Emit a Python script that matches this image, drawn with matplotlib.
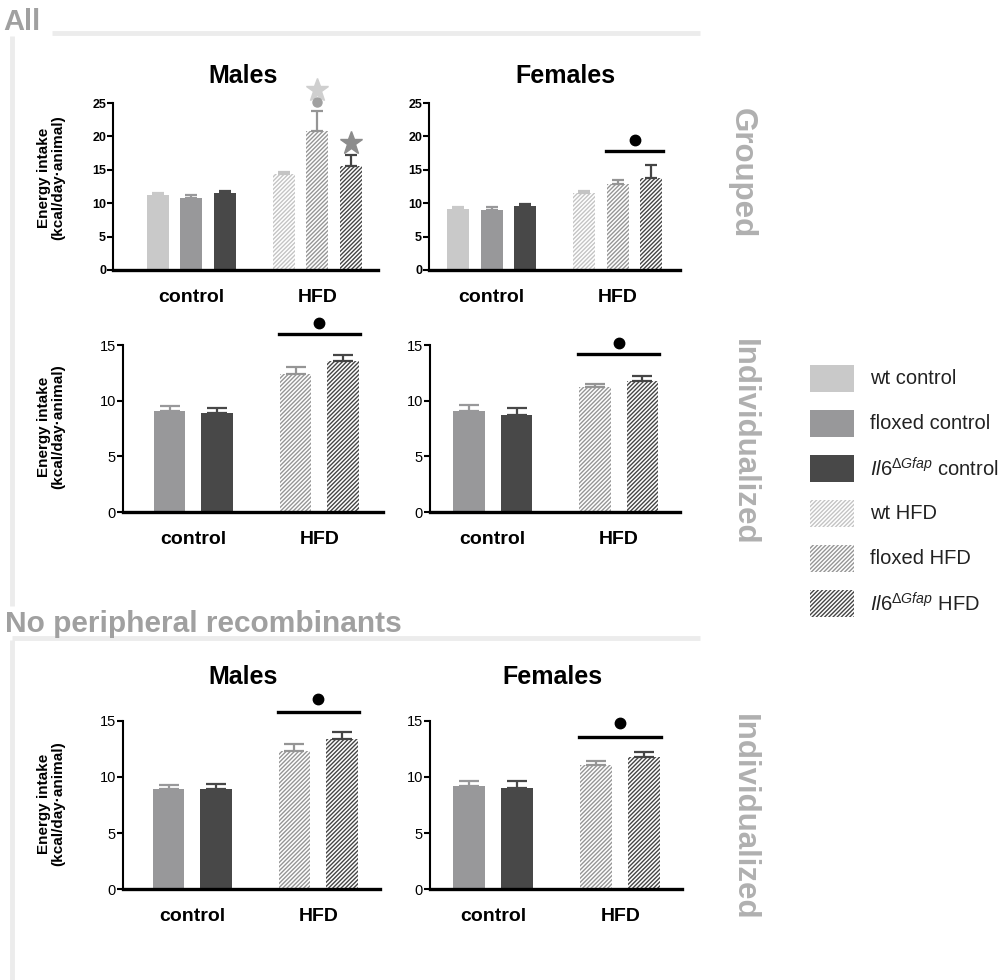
import numpy as np
import matplotlib
matplotlib.use('Agg')
import matplotlib.pyplot as plt
from matplotlib.patches import Rectangle

plt.rcParams['font.family'] = ['Liberation Sans', 'DejaVu Sans']
plt.rcParams['mathtext.fontset'] = 'custom'
plt.rcParams['mathtext.rm'] = 'Liberation Sans'
plt.rcParams['mathtext.it'] = 'Liberation Sans:italic'
plt.rcParams['hatch.linewidth'] = 1.0

W, H = 1002, 980

# ---- data (kcal/day per animal, mean and SEM) ----
groups = ['control', 'HFD']
series = ['wt control', 'floxed control', 'Il6 control', 'wt HFD', 'floxed HFD', 'Il6 HFD']
legend_labels = ['wt control', 'floxed control', r'$\mathit{Il6}^{\Delta\mathit{Gfap}}$ control',
                 'wt HFD', 'floxed HFD', r'$\mathit{Il6}^{\Delta\mathit{Gfap}}$ HFD']

grouped_males = [11.3, 10.8, 11.5, 14.4, 20.8, 15.5]
grouped_males_err = [0.3, 0.5, 0.4, 0.3, 3.0, 1.7]
grouped_females = [9.2, 9.0, 9.6, 11.6, 12.9, 13.7]
grouped_females_err = [0.3, 0.4, 0.35, 0.3, 0.6, 2.0]

indiv_series = ['floxed control', 'Il6 control', 'floxed HFD', 'Il6 HFD']
indiv_males = [9.1, 8.9, 12.4, 13.6]
indiv_males_err = [0.4, 0.45, 0.6, 0.5]
indiv_females = [9.1, 8.75, 11.2, 11.75]
indiv_females_err = [0.5, 0.55, 0.3, 0.5]

nopr_males = [8.9, 8.9, 12.3, 13.4]
nopr_males_err = [0.35, 0.45, 0.65, 0.6]
nopr_females = [9.2, 9.0, 11.1, 11.8]
nopr_females_err = [0.45, 0.6, 0.35, 0.45]

colors = {'wt control': '#c9c9c9', 'floxed control': '#98989a', 'Il6 control': '#484848',
          'wt HFD': '#c4c4c4', 'floxed HFD': '#959595', 'Il6 HFD': '#454545'}
HATCH = '////////'

fig = plt.figure(figsize=(W / 100, H / 100), dpi=100)

# background layer in pixel coordinates
bg = fig.add_axes([0, 0, 1, 1], zorder=0)
bg.set_xlim(0, W)
bg.set_ylim(H, 0)
bg.axis('off')

line_col = '#ececec'
bg.plot([52, 700], [33.5, 33.5], color=line_col, lw=3.5, solid_capstyle='butt')
bg.plot([12.5, 12.5], [36, 606], color=line_col, lw=3.5, solid_capstyle='butt')
bg.plot([12, 700], [638, 638], color=line_col, lw=3.5, solid_capstyle='butt')
bg.plot([12.5, 12.5], [640, 980], color=line_col, lw=3.5, solid_capstyle='butt')
bg.text(3, 30, 'All', fontsize=21, fontweight='bold', color='#a0a0a0', ha='left', va='baseline')
bg.text(5, 632, 'No peripheral recombinants', fontsize=21.5, fontweight='bold',
        color='#a0a0a0', ha='left', va='baseline')

side_col = '#b0b0b0'
bg.text(742, 173, 'Grouped', fontsize=22.5, fontweight='bold', color=side_col, rotation=-90,
        ha='center', va='center')
bg.text(744, 442, 'Individualized', fontsize=22.5, fontweight='bold', color=side_col, rotation=-90,
        ha='center', va='center')
bg.text(744, 817, 'Individualized', fontsize=22.5, fontweight='bold', color=side_col, rotation=-90,
        ha='center', va='center')

# legend
for i, (s, lab) in enumerate(zip(series, legend_labels)):
    yc = 378.5 + i * 45
    if 'HFD' in s:
        r = Rectangle((810, yc - 13.5), 44, 27, facecolor='white', edgecolor=colors[s],
                      hatch=HATCH, lw=0)
    else:
        r = Rectangle((810, yc - 13.5), 44, 27, facecolor=colors[s], lw=0)
    bg.add_patch(r)
    bg.text(870, yc, lab, fontsize=14.5, color='#222222', ha='left', va='center')


def px_axes(l, t, r, b):
    return fig.add_axes([l / W, 1 - b / H, (r - l) / W, (b - t) / H], zorder=2)


def panel(rect, names, vals, errs, ymax, xpad, xright, hfd_off, cap, bold_ticks):
    ax = px_axes(*rect)
    per = len(vals) // 2
    xs = list(range(per)) + [hfd_off + i for i in range(per)]
    for x, s, v, e in zip(xs, names, vals, errs):
        c = colors[s]
        if 'HFD' in s:
            ax.bar(x, v, width=0.66, facecolor='white', edgecolor=c, hatch=HATCH, linewidth=0)
        else:
            ax.bar(x, v, width=0.66, color=c, linewidth=0)
        ax.errorbar(x, v, yerr=[[0], [e]], fmt='none', ecolor=c, elinewidth=1.6,
                    capsize=cap, capthick=1.6)
    ax.set_xlim(-xpad, xright)
    ax.set_ylim(0, ymax)
    ax.set_yticks(np.arange(0, ymax + 1, 5))
    ax.set_xticks([(per - 1) / 2, hfd_off + (per - 1) / 2])
    ax.set_xticklabels(groups, fontsize=14, fontweight='bold')
    ax.tick_params(axis='x', length=0, pad=14)
    ax.tick_params(axis='y', length=4, width=1.5, pad=1)
    for lab in ax.get_yticklabels():
        lab.set_fontsize(9 if bold_ticks else 10.5)
        lab.set_fontweight('bold' if bold_ticks else 'normal')
    for sp in ['top', 'right']:
        ax.spines[sp].set_visible(False)
    ax.spines['left'].set_linewidth(1.5)
    ax.spines['bottom'].set_linewidth(2.4)
    return ax, xs


def sig(ax, xs, y_line, y_dot):
    ax.plot([xs[-2] - 0.35, xs[-1] + 0.35], [y_line, y_line], color='black', lw=2.4, clip_on=False)
    ax.plot([(xs[-2] + xs[-1]) / 2], [y_dot], 'o', color='black', ms=7.5, clip_on=False)


# row 1: grouped
ax, xs = panel((113, 103, 378, 270), series, grouped_males, grouped_males_err,
               25, 1.34, 6.57, 3.76, 4.5, True)
ax.plot([xs[4]], [26.9], '*', color='#cfcfcf', ms=17, clip_on=False)
ax.plot([xs[4]], [25.1], 'o', color='#a0a0a0', ms=6.5, clip_on=False)
ax.plot([xs[5]], [19.0], '*', color='#8c8c8c', ms=17, clip_on=False)

ax, xs = panel((429, 103, 680, 270), series, grouped_females, grouped_females_err,
               25, 0.86, 6.59, 3.74, 4.5, True)
sig(ax, xs, 17.8, 19.5)

# row 2: individualized
ax, xs = panel((123, 345, 383, 512), indiv_series, indiv_males, indiv_males_err,
               15, 0.98, 4.49, 2.65, 7, False)
sig(ax, xs, 16.0, 17.0)
ax, xs = panel((430, 345, 680, 512), indiv_series, indiv_females, indiv_females_err,
               15, 0.82, 4.44, 2.65, 7, False)
sig(ax, xs, 14.2, 15.2)

# row 3: no peripheral recombinants, individualized
ax, xs = panel((123, 721, 380, 889), indiv_series, nopr_males, nopr_males_err,
               15, 0.96, 4.45, 2.65, 7, False)
sig(ax, xs, 15.8, 17.0)
ax, xs = panel((430, 721, 682, 889), indiv_series, nopr_females, nopr_females_err,
               15, 0.82, 4.44, 2.65, 7, False)
sig(ax, xs, 13.6, 14.8)

# titles and y labels
for x, y, t in [(243, 76, 'Males'), (565, 76, 'Females'), (243, 677, 'Males'), (552, 677, 'Females')]:
    bg.text(x, y, t, fontsize=18, fontweight='bold', ha='center', va='center')
for y in [178, 427, 804]:
    bg.text(51, y, 'Energy intake\n(kcal/day\u00b7animal)', fontsize=11, fontweight='bold',
            rotation=90, ha='center', va='center', multialignment='center', linespacing=1.0)

fig.savefig('out.png', dpi=100)
